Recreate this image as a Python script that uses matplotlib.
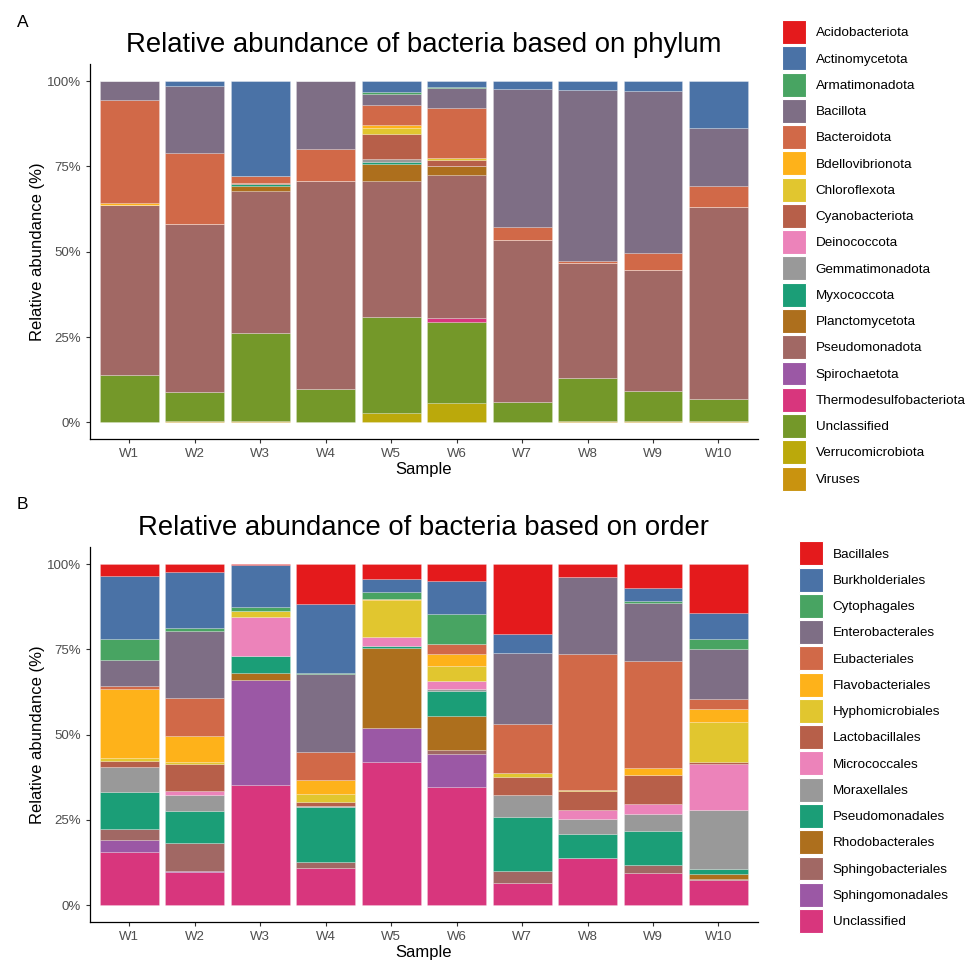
import numpy as np
import matplotlib.pyplot as plt
from matplotlib.patches import Patch

plt.rcParams['font.family'] = ['Liberation Sans', 'DejaVu Sans']

samples = ['W1', 'W2', 'W3', 'W4', 'W5', 'W6', 'W7', 'W8', 'W9', 'W10']

# colour palette shared by both panels (same order as legend)
palette = ['#E41A1C', '#4A72A6', '#48A462', '#7E6E85', '#D16948', '#FEB21A',
           '#E1C62F', '#B75F49', '#EC83BA', '#999999', '#1B9E77', '#AD6F1D',
           '#A16864', '#9B58A5', '#D8367D', '#749829', '#BBA90B', '#C9930F']

# ---- phylum level (%), W1..W10
phyla = ['Acidobacteriota', 'Actinomycetota', 'Armatimonadota', 'Bacillota',
         'Bacteroidota', 'Bdellovibrionota', 'Chloroflexota', 'Cyanobacteriota',
         'Deinococcota', 'Gemmatimonadota', 'Myxococcota', 'Planctomycetota',
         'Pseudomonadota', 'Spirochaetota', 'Thermodesulfobacteriota',
         'Unclassified', 'Verrucomicrobiota', 'Viruses']
acidobacteriota = [0, 0, 0, 0, 0, 0, 0, 0, 0, 0]
actinomycetota = [0, 1.4, 27.7, 0, 3.1, 1.9, 2.3, 2.5, 3.0, 13.6]
armatimonadota = [0, 0, 0, 0, 0.7, 0.3, 0, 0, 0, 0]
bacillota = [5.6, 19.8, 0, 19.8, 3.2, 5.8, 40.4, 50.3, 47.4, 17.0]
bacteroidota = [30.1, 20.8, 2.0, 9.6, 5.9, 14.6, 3.9, 0.5, 4.9, 6.4]
bdellovibrionota = [0.6, 0, 0, 0, 0.7, 0, 0, 0, 0, 0]
chloroflexota = [0, 0, 0, 0, 2.0, 0.6, 0, 0, 0, 0]
cyanobacteriota = [0, 0, 0.3, 0, 7.3, 1.7, 0, 0, 0, 0]
deinococcota = [0, 0, 0, 0, 0, 0, 0, 0, 0, 0]
gemmatimonadota = [0, 0, 0, 0, 0.7, 0, 0, 0, 0, 0]
myxococcota = [0, 0, 0.5, 0, 0.6, 0, 0, 0, 0, 0]
planctomycetota = [0, 0, 1.7, 0, 5.1, 2.8, 0, 0, 0, 0]
pseudomonadota = [49.8, 49.1, 41.6, 60.9, 39.9, 41.9, 47.5, 33.6, 35.6, 56.2]
spirochaetota = [0, 0, 0, 0, 0, 0, 0, 0, 0, 0]
thermodesulfobacteriota = [0, 0, 0, 0, 0, 1.2, 0, 0, 0, 0]
unclassified_p = [13.9, 8.6, 25.6, 9.7, 28.0, 23.5, 5.9, 12.8, 8.8, 6.5]
verrucomicrobiota = [0, 0, 0, 0, 2.8, 5.8, 0, 0, 0, 0]
viruses = [0, 0.3, 0.5, 0, 0, 0, 0, 0.3, 0.3, 0.3]

phylum_data = [acidobacteriota, actinomycetota, armatimonadota, bacillota,
               bacteroidota, bdellovibrionota, chloroflexota, cyanobacteriota,
               deinococcota, gemmatimonadota, myxococcota, planctomycetota,
               pseudomonadota, spirochaetota, thermodesulfobacteriota,
               unclassified_p, verrucomicrobiota, viruses]

# ---- order level (%), W1..W10
orders = ['Bacillales', 'Burkholderiales', 'Cytophagales', 'Enterobacterales',
          'Eubacteriales', 'Flavobacteriales', 'Hyphomicrobiales',
          'Lactobacillales', 'Micrococcales', 'Moraxellales', 'Pseudomonadales',
          'Rhodobacterales', 'Sphingobacteriales', 'Sphingomonadales',
          'Unclassified']
bacillales = [3.5, 2.3, 0.4, 11.8, 4.5, 5.0, 20.6, 3.8, 6.9, 14.3]
burkholderiales = [18.6, 16.5, 12.2, 20.1, 3.6, 9.6, 5.5, 0, 4.0, 7.8]
cytophagales = [6.0, 0.8, 1.3, 0.4, 2.0, 8.9, 0, 0, 0.4, 2.8]
enterobacterales = [7.7, 19.7, 0, 22.7, 0, 0, 21.0, 22.6, 17.2, 14.7]
eubacteriales = [0.8, 11.0, 0, 8.4, 0, 2.9, 14.2, 39.7, 31.2, 2.9]
flavobacteriales = [20.2, 7.7, 0, 3.9, 0.5, 3.6, 0, 0, 2.1, 3.7]
hyphomicrobiales = [0.9, 0.7, 1.7, 2.3, 10.7, 4.5, 1.1, 0.4, 0, 11.7]
lactobacillales = [1.8, 7.7, 0, 1.3, 0, 0, 5.5, 5.6, 8.5, 0.8]
micrococcales = [0, 1.4, 11.5, 0, 2.6, 2.2, 0, 2.5, 2.8, 13.3]
moraxellales = [7.2, 4.6, 0, 0.3, 0, 0.7, 6.3, 4.6, 5.1, 17.4]
pseudomonadales = [11.0, 9.4, 4.9, 16.1, 0.6, 7.1, 15.7, 7.0, 10.1, 1.5]
rhodobacterales = [0, 0, 2.2, 0, 23.4, 10.1, 0, 0, 0, 1.4]
sphingobacteriales = [3.2, 8.1, 0, 1.7, 0.2, 1.2, 3.8, 0, 2.3, 0.3]
sphingomonadales = [3.6, 0.3, 30.7, 0, 9.8, 9.5, 0, 0, 0, 0]
unclassified_o = [15.5, 9.8, 35.2, 11.0, 42.1, 34.8, 6.4, 13.8, 9.4, 7.4]

order_data = [bacillales, burkholderiales, cytophagales, enterobacterales,
              eubacteriales, flavobacteriales, hyphomicrobiales, lactobacillales,
              micrococcales, moraxellales, pseudomonadales, rhodobacterales,
              sphingobacteriales, sphingomonadales, unclassified_o]


def stacked(ax, names, data, title):
    x = np.arange(len(samples))
    bottom = np.zeros(len(samples))
    # ggplot stacks the first level on top, so draw from the last one up
    for i in range(len(names) - 1, -1, -1):
        vals = np.array(data[i], dtype=float)
        ax.bar(x, vals, bottom=bottom, width=0.9, color=palette[i],
               edgecolor=(1, 1, 1, 0.35), linewidth=0.4)
        bottom += vals
    ax.set_xlim(-0.6, len(samples) - 0.4)
    ax.set_ylim(-5, 105)
    ax.set_xticks(x)
    ax.set_xticklabels(samples)
    ax.set_yticks([0, 25, 50, 75, 100])
    ax.set_yticklabels(['0%', '25%', '50%', '75%', '100%'])
    ax.tick_params(colors='#333333', labelcolor='#4D4D4D', labelsize=9.5,
                   length=3, width=0.8)
    for s in ['top', 'right']:
        ax.spines[s].set_visible(False)
    for s in ['left', 'bottom']:
        ax.spines[s].set_linewidth(0.9)
    ax.set_xlabel('Sample', fontsize=12, labelpad=1)
    ax.set_ylabel('Relative abundance (%)', fontsize=12, labelpad=1.5)
    ax.set_title(title, fontsize=19.8, pad=9)


fig = plt.figure(figsize=(9.72, 9.6), dpi=100)
ax1 = fig.add_axes([0.0926, 0.5423, 0.687, 0.391])
ax2 = fig.add_axes([0.0926, 0.0392, 0.687, 0.391])

stacked(ax1, phyla, phylum_data, 'Relative abundance of bacteria based on phylum')
stacked(ax2, orders, order_data, 'Relative abundance of bacteria based on order')

leg_kw = dict(loc='upper left', frameon=False, fontsize=9.7, handlelength=1.78,
              handleheight=2.36, labelspacing=0.17, handletextpad=0.71,
              borderpad=0, borderaxespad=0)
h1 = [Patch(facecolor=palette[i], edgecolor='white', linewidth=0.8) for i in range(len(phyla))]
fig.legend(h1, phyla, bbox_to_anchor=(0.8045, 0.979), **leg_kw)
h2 = [Patch(facecolor=palette[i], edgecolor='white', linewidth=0.8) for i in range(len(orders))]
fig.legend(h2, orders, bbox_to_anchor=(0.822, 0.436), **leg_kw)

fig.text(0.017, 0.977, 'A', fontsize=12.5, va='center')
fig.text(0.017, 0.474, 'B', fontsize=12.5, va='center')

fig.savefig('out.png', dpi=100)
